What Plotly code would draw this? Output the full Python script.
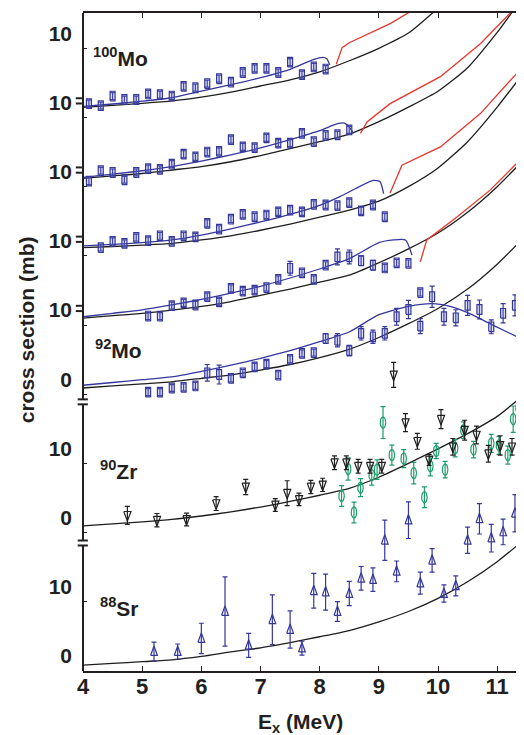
import numpy as np
import plotly.graph_objects as go

# ---------------- data (E in MeV, cross section in mb) ----------------
mo100_x = [4.1, 4.3, 4.5, 4.7, 4.9, 5.1, 5.3, 5.5, 5.7, 5.9, 6.1, 6.3, 6.5, 6.7, 6.9, 7.1, 7.3, 7.5, 7.7, 7.9, 8.1]
mo100_y = [2.0, 1.7, 3.1, 2.6, 2.6, 3.4, 3.3, 3.1, 4.5, 4.3, 4.9, 5.6, 5.1, 6.5, 7.1, 7.1, 6.5, 8.0, 6.2, 7.3, 7.0]
mo100_e = [0.5] * 21

mo98_x = [4.1, 4.3, 4.5, 4.7, 4.9, 5.1, 5.3, 5.5, 5.7, 5.9, 6.1, 6.3, 6.5, 6.7, 6.9, 7.1, 7.3, 7.5, 7.7, 7.9, 8.1, 8.3, 8.5]
mo98_y = [0.8, 2.3, 2.05, 1.0, 2.05, 2.6, 2.5, 3.25, 4.7, 4.3, 5.0, 5.1, 6.8, 5.75, 5.65, 7.05, 6.3, 6.3, 7.7, 6.5, 7.4, 7.5, 8.2]
mo98_e = [0.5] * 23

mo96_x = [4.3, 4.5, 4.7, 4.9, 5.1, 5.3, 5.5, 5.7, 5.9, 6.1, 6.3, 6.5, 6.7, 6.9, 7.1, 7.3, 7.5, 7.7, 7.9, 8.1, 8.3, 8.5, 8.7, 8.9, 9.1]
mo96_y = [1.2, 2.1, 1.8, 2.65, 2.2, 2.9, 2.1, 2.9, 2.75, 4.7, 3.85, 5.3, 6.0, 5.65, 5.9, 6.35, 6.6, 6.35, 7.45, 7.35, 7.25, 7.7, 6.5, 7.35, 5.65]
mo96_e = [0.5] * 25

mo94_x = [5.1, 5.3, 5.5, 5.7, 5.9, 6.1, 6.3, 6.5, 6.7, 6.9, 7.1, 7.3, 7.5, 7.7, 7.9, 8.1, 8.3, 8.5, 8.7, 8.9, 9.1, 9.3, 9.5]
mo94_y = [1.3, 1.3, 2.8, 3.2, 2.9, 4.1, 3.35, 5.3, 4.9, 5.05, 5.4, 6.6, 8.2, 7.55, 6.6, 8.65, 9.85, 9.85, 9.3, 8.65, 8.25, 9.0, 8.9]
mo94_e = [0.5, 0.5, 0.5, 0.5, 0.5, 0.5, 0.5, 0.5, 0.5, 0.5, 0.5, 0.5, 1.0, 0.5, 0.5, 0.5, 1.15, 1.0, 0.7, 0.7, 0.5, 0.5, 0.5]

mo92_x = [5.1, 5.3, 5.5, 5.7, 5.9, 6.1, 6.3, 6.5, 6.7, 6.9, 7.1, 7.3, 7.5, 7.7, 7.9, 8.1, 8.3, 8.5, 8.7, 8.9, 9.1,
          9.3, 9.5, 9.7, 9.7, 9.9, 10.1, 10.3, 10.5, 10.7, 10.9, 11.1, 11.3, 11.5]
mo92_y = [0.3, 0.3, 0.9, 1.0, 1.2, 3.1, 2.85, 2.3, 3.1, 3.95, 4.35, 2.75, 5.05, 5.9, 6.0, 8.05, 7.8, 6.3, 8.8, 8.3, 8.8,
          11.2, 12.25, 9.85, 14.7, 14.1, 11.2, 11.05, 12.85, 12.25, 9.75, 11.7, 12.85, 12.4]
mo92_e = [0.5, 0.5, 0.5, 0.5, 0.5, 1.2, 1.37, 0.5, 0.5, 0.5, 0.5, 0.5, 0.5, 0.5, 0.5, 0.7, 0.96, 0.77, 0.96, 0.96, 0.96,
          1.2, 1.32, 1.08, 0.5, 1.54, 1.2, 1.16, 1.44, 1.37, 1.01, 1.4, 1.52, 1.4]

zr_x = [4.75, 5.25, 5.75, 6.25, 6.75, 7.25, 7.45, 7.65, 7.85, 8.05, 8.25, 8.45, 8.65, 8.85, 9.05, 9.25, 9.45, 9.65,
        9.85, 10.05, 10.25, 10.45, 10.65, 10.85, 11.05, 11.25, 11.45]
zr_y = [2.5, 1.8, 1.9, 4.2, 6.6, 4.0, 5.7, 4.8, 6.6, 6.9, 10.1, 10.1, 9.6, 9.6, 9.6, 22.8, 15.9, 13.2, 10.5, 16.4,
        12.4, 14.8, 14.1, 11.4, 12.6, 12.4, 14.6]
zr_e = [1.3, 0.96, 0.92, 1.0, 1.1, 0.92, 1.8, 0.9, 0.96, 0.96, 1.0, 1.0, 1.0, 1.0, 1.0, 1.8, 1.3, 1.15, 0.8, 1.37,
        1.2, 1.44, 1.28, 1.2, 1.4, 1.2, 1.44]

zg_x = [8.37, 8.48, 8.58, 8.69, 8.88, 8.97, 9.07, 9.22, 9.42, 9.59, 9.77, 9.87, 9.97, 10.12, 10.29, 10.43, 10.6,
        10.9, 11.03, 11.18, 11.27, 11.36, 11.41, 11.46]
zg_y = [5.3, 9.2, 2.9, 6.5, 8.3, 9.1, 15.9, 11.2, 10.7, 8.6, 5.1, 9.6, 11.8, 9.1, 12.2, 14.8, 12.0, 12.9, 12.6,
        11.2, 16.4, 18.0, 20.7, 25.9]
zg_e = [1.5, 1.6, 1.5, 1.3, 1.44, 1.4, 2.3, 1.44, 1.3, 1.56, 1.5, 1.4, 1.1, 1.2, 1.25, 1.2, 1.2, 1.3, 1.3, 1.3,
        1.9, 1.56, 1.1, 1.5]

sr_x = [5.2, 5.6, 6.0, 6.4, 6.8, 7.2, 7.5, 7.7, 7.9, 8.1, 8.3, 8.5, 8.7, 8.9, 9.1, 9.3, 9.5, 9.7, 9.9, 10.1, 10.3,
        10.5, 10.7, 10.9, 11.1, 11.3, 11.46]
sr_y = [2.8, 2.8, 4.7, 8.6, 3.7, 7.4, 6.0, 3.3, 11.6, 11.4, 8.6, 11.2, 13.4, 13.2, 18.9, 14.4, 21.8, 12.7, 16.0,
        11.2, 12.3, 18.9, 22.0, 19.2, 20.1, 22.8, 11.0]
sr_e = [1.37, 1.1, 2.2, 5.0, 1.73, 3.6, 2.7, 1.0, 2.5, 2.6, 1.44, 1.76, 1.7, 1.7, 2.9, 1.5, 2.65, 1.6, 1.7, 1.25,
        1.44, 1.9, 2.2, 2.0, 1.85, 2.7, 1.5]

# model curves
mo100_black_x = [4.0, 4.5, 5.0, 5.5, 6.0, 6.5, 7.0, 7.5, 8.0, 8.5, 9.0, 9.5, 10.0]
mo100_black_y = [1.45, 1.75, 2.05, 2.4, 2.95, 3.65, 4.55, 5.45, 6.6, 8.2, 10.0, 12.2, 15.8]
mo100_blue_x = [4.0, 4.5, 5.0, 5.5, 6.0, 6.5, 7.0, 7.5, 7.9, 8.05, 8.12, 8.17]
mo100_blue_y = [1.6, 1.95, 2.35, 2.85, 3.8, 4.75, 5.75, 6.95, 8.4, 8.7, 8.5, 7.6]
mo100_red_x = [8.28, 8.38, 8.5, 8.9, 9.2, 9.55]
mo100_red_y = [7.7, 10.1, 10.8, 12.4, 13.6, 15.4]

mo98_black_x = [4.0, 4.5, 5.0, 5.5, 6.0, 6.5, 7.0, 7.5, 8.0, 8.5, 9.0, 9.5, 10.0, 10.5, 11.0, 11.3]
mo98_black_y = [1.2, 1.55, 1.9, 2.4, 2.9, 3.6, 4.5, 5.5, 6.5, 7.6, 9.4, 11.5, 13.8, 17.2, 22.3, 25.8]
mo98_blue_x = [4.0, 4.5, 5.0, 5.5, 6.0, 6.5, 7.0, 7.5, 8.0, 8.3, 8.42, 8.5, 8.57]
mo98_blue_y = [1.35, 1.8, 2.3, 2.9, 3.7, 4.6, 5.6, 6.8, 8.1, 9.1, 9.2, 8.6, 7.7]
mo98_red_x = [8.69, 8.8, 9.19, 10.04, 10.72, 11.3]
mo98_red_y = [7.7, 9.36, 12.0, 15.9, 20.7, 25.8]

mo96_black_x = [4.0, 4.5, 5.0, 5.5, 6.0, 6.5, 7.0, 7.5, 8.0, 8.5, 9.0, 9.5, 10.0, 10.5, 11.0, 11.46]
mo96_black_y = [1.2, 1.35, 1.55, 1.8, 2.3, 2.9, 3.7, 4.6, 5.6, 6.6, 7.9, 10.0, 12.7, 16.5, 21.5, 26.6]
mo96_blue_x = [4.0, 4.5, 5.0, 5.5, 6.0, 6.5, 7.0, 7.5, 8.0, 8.35, 8.6, 8.91, 9.02, 9.08]
mo96_blue_y = [1.45, 1.65, 1.9, 2.3, 3.0, 3.9, 4.9, 6.0, 7.3, 8.6, 9.7, 10.9, 10.7, 9.0]
mo96_red_x = [9.19, 9.39, 10.04, 10.72, 11.28, 11.46]
mo96_red_y = [9.1, 13.1, 15.75, 20.6, 25.9, 27.5]

mo94_black_x = [4.0, 4.5, 5.0, 5.5, 6.0, 6.5, 7.0, 7.5, 8.0, 8.5, 9.0, 9.5, 10.0, 10.5, 11.0, 11.46]
mo94_black_y = [1.0, 1.35, 1.7, 2.15, 2.7, 3.4, 4.3, 5.2, 6.2, 7.2, 9.0, 11.0, 13.3, 16.3, 20.0, 24.0]
mo94_blue_x = [4.0, 4.5, 5.0, 5.5, 6.0, 6.5, 7.0, 7.5, 8.0, 8.5, 9.0, 9.25, 9.45, 9.56]
mo94_blue_y = [1.2, 1.7, 2.2, 2.9, 3.7, 4.6, 5.6, 6.8, 8.1, 9.6, 11.9, 12.3, 12.3, 10.1]
mo94_red_x = [9.70, 9.81, 10.32, 10.88, 11.46]
mo94_red_y = [9.13, 12.3, 15.6, 19.5, 24.5]

mo92_black_x = [4.0, 4.5, 5.0, 5.5, 6.0, 6.5, 7.0, 7.5, 8.0, 8.5, 9.0, 9.5, 10.0, 10.5, 11.0, 11.46]
mo92_black_y = [0.9, 1.2, 1.5, 1.8, 2.3, 2.8, 3.5, 4.3, 5.3, 6.5, 8.2, 10.2, 12.4, 15.2, 18.8, 22.7]
mo92_blue_x = [4.0, 4.5, 5.0, 5.5, 6.0, 6.5, 7.0, 7.5, 8.0, 8.5, 9.0, 9.5, 9.9, 10.2, 10.5, 10.9, 11.46]
mo92_blue_y = [1.3, 1.7, 2.1, 2.5, 3.3, 4.2, 5.2, 6.3, 7.6, 9.0, 11.5, 12.7, 13.1, 12.7, 11.8, 10.1, 7.8]

zr_black_x = [4.0, 4.5, 5.0, 5.5, 6.0, 6.5, 7.0, 7.5, 8.0, 8.5, 9.0, 9.5, 10.0, 10.5, 11.0, 11.46]
zr_black_y = [0.98, 1.25, 1.55, 1.9, 2.4, 3.0, 3.7, 4.5, 5.4, 6.4, 8.0, 10.0, 12.1, 14.3, 16.8, 20.0]

sr_black_x = [4.0, 4.5, 5.0, 5.5, 6.0, 6.5, 7.0, 7.5, 8.0, 8.5, 9.0, 9.5, 10.0, 10.5, 11.0, 11.46]
sr_black_y = [0.85, 1.1, 1.35, 1.6, 2.1, 2.75, 3.35, 4.1, 4.95, 5.85, 7.1, 8.6, 10.5, 12.9, 15.8, 19.0]

# panel stacking offsets on the common axis
OFF = {'mo100': 80, 'mo98': 70, 'mo96': 60, 'mo94': 50, 'mo92': 40, 'zr': 20, 'sr': 0}

# ---------------- geometry / styles ----------------
# the page body adds an 8 px margin, so the figure is 8 px smaller than the window
W, H = 516, 727
ML, MR, MT, MB = 75, 0, 5, 64
XR = [4.0, 11.453]
YR = [0.0, 95.1]
PXX = (W - ML - MR) / (XR[1] - XR[0])
PXY = (H - MT - MB) / (YR[1] - YR[0])

BLUE = '#34379b'
BLACK = '#1e1e1e'
RED = '#e8352b'
GREEN = '#1c9d6a'
AX = '#231f20'

t = np.linspace(0, 2 * np.pi, 25)
BOX = [(-2.5, -4.8), (2.5, -4.8), (2.5, 4.8), (-2.5, 4.8), (-2.5, -4.8)]
ELL = list(zip(2.8 * np.cos(t), 5.6 * np.sin(t)))
TRI_DN = [(-3.6, 3.8), (3.6, 3.8), (0, -5.8), (-3.6, 3.8)]
TRI_UP = [(-3.4, -3.8), (3.4, -3.8), (0, 5.6), (-3.4, -3.8)]


def outline(xs, ys, off, shape):
    X, Y = [], []
    for x, y in zip(xs, ys):
        for dx, dy in shape:
            X.append(x + dx / PXX)
            Y.append(off + y + dy / PXY)
        X.append(None)
        Y.append(None)
    return X, Y


fig = go.Figure()


def curve(xs, ys, off, color, spline=True):
    fig.add_trace(go.Scatter(
        x=xs, y=[off + v for v in ys], mode='lines',
        line=dict(color=color, width=1.3, shape='spline' if spline else 'linear', smoothing=0.6),
        hoverinfo='skip', showlegend=False))


def points(xs, ys, es, off, shape, color, fill):
    fig.add_trace(go.Scatter(
        x=xs, y=[off + v for v in ys], mode='markers',
        marker=dict(size=2, color='rgba(0,0,0,0)'),
        error_y=dict(type='data', array=es, width=2.5, thickness=1.2, color=color),
        hoverinfo='skip', showlegend=False))
    X, Y = outline(xs, ys, off, shape)
    fig.add_trace(go.Scatter(
        x=X, y=Y, mode='lines', line=dict(color=color, width=1.2),
        fill='toself' if fill else None, fillcolor=fill,
        hoverinfo='skip', showlegend=False))


# curves
curve(mo100_black_x, mo100_black_y, OFF['mo100'], BLACK)
curve(mo100_blue_x, mo100_blue_y, OFF['mo100'], BLUE)
curve(mo100_red_x, mo100_red_y, OFF['mo100'], RED, spline=False)
curve(mo98_black_x, mo98_black_y, OFF['mo98'], BLACK)
curve(mo98_blue_x, mo98_blue_y, OFF['mo98'], BLUE)
curve(mo98_red_x, mo98_red_y, OFF['mo98'], RED, spline=False)
curve(mo96_black_x, mo96_black_y, OFF['mo96'], BLACK)
curve(mo96_blue_x, mo96_blue_y, OFF['mo96'], BLUE)
curve(mo96_red_x, mo96_red_y, OFF['mo96'], RED, spline=False)
curve(mo94_black_x, mo94_black_y, OFF['mo94'], BLACK)
curve(mo94_blue_x, mo94_blue_y, OFF['mo94'], BLUE)
curve(mo94_red_x, mo94_red_y, OFF['mo94'], RED, spline=False)
curve(mo92_black_x, mo92_black_y, OFF['mo92'], BLACK)
curve(mo92_blue_x, mo92_blue_y, OFF['mo92'], BLUE)
curve(zr_black_x, zr_black_y, OFF['zr'], BLACK)
curve(sr_black_x, sr_black_y, OFF['sr'], BLACK)

# data points
BOXFILL = 'rgba(110,120,210,0.25)'
points(mo100_x, mo100_y, mo100_e, OFF['mo100'], BOX, BLUE, BOXFILL)
points(mo98_x, mo98_y, mo98_e, OFF['mo98'], BOX, BLUE, BOXFILL)
points(mo96_x, mo96_y, mo96_e, OFF['mo96'], BOX, BLUE, BOXFILL)
points(mo94_x, mo94_y, mo94_e, OFF['mo94'], BOX, BLUE, BOXFILL)
points(mo92_x, mo92_y, mo92_e, OFF['mo92'], BOX, BLUE, BOXFILL)
points(zg_x, zg_y, zg_e, OFF['zr'], ELL, GREEN, None)
points(zr_x, zr_y, zr_e, OFF['zr'], TRI_DN, BLACK, None)
points(sr_x, sr_y, sr_e, OFF['sr'], TRI_UP, BLUE, None)

# ---------------- axes ----------------
tick_vals = [0, 10, 20, 30, 40, 50, 60, 70, 80, 90]
tick_text = ['0', '10', '0', '10', '0', '10', '10', '10', '10', '10']
x_ticks = [4, 5, 6, 7, 8, 9, 10, 11]

fig.update_xaxes(range=XR, tickvals=x_ticks, ticktext=[str(v) for v in x_ticks],
                 ticks='inside', ticklen=5, tickwidth=1.2, tickcolor=AX,
                 showline=True, linewidth=2, linecolor=AX, mirror='ticks',
                 showgrid=False, zeroline=False, automargin=False,
                 ticklabelstandoff=-5,
                 tickfont=dict(family='Liberation Sans, Arial', size=22, color=AX, weight='bold'))
fig.update_yaxes(range=YR, tickvals=tick_vals, ticktext=tick_text,
                 ticks='inside', ticklen=4, tickwidth=1.2, tickcolor=AX,
                 showline=False, mirror='ticks',
                 showgrid=False, zeroline=False, automargin=False,
                 ticklabelshift=-15, ticklabelstandoff=10,
                 tickfont=dict(family='Liberation Sans, Arial', size=21, color=AX, weight='bold'))

shapes = [dict(type='line', xref='paper', yref='paper', x0=0, x1=0, y0=0, y1=1,
               line=dict(color=AX, width=2), layer='above')]
# "=" marks next to the stacked-panel labels
for yv in [52.4, 62.4, 72.4, 82.4]:
    for d in (-0.38, 0.38):
        shapes.append(dict(type='line', xref='paper', yref='y', x0=-0.0163, x1=-0.0025,
                           y0=yv + d, y1=yv + d, line=dict(color=AX, width=2), layer='above'))
# axis breaks
for yv in [38.9, 18.5]:
    shapes.append(dict(type='rect', xref='paper', yref='y', x0=-0.006, x1=0.006,
                       y0=yv - 0.3, y1=yv + 0.3, fillcolor='white', line=dict(width=0), layer='above'))
    for d in (-0.36, 0.36):
        shapes.append(dict(type='line', xref='paper', yref='y', x0=-0.012, x1=0.011,
                           y0=yv + d, y1=yv + d, line=dict(color=AX, width=2), layer='above'))

LBL = dict(family='Liberation Sans, Arial', size=21, color=AX)
annotations = [
    dict(text='<b><sup>100</sup>Mo</b>', x=4.14, y=88.8, xref='x', yref='y', xanchor='left', yanchor='middle',
         showarrow=False, font=LBL),
    dict(text='<b><sup>92</sup>Mo</b>', x=4.17, y=46.6, xref='x', yref='y', xanchor='left', yanchor='middle',
         showarrow=False, font=LBL),
    dict(text='<b><sup>90</sup>Zr</b>', x=4.25, y=29.0, xref='x', yref='y', xanchor='left', yanchor='middle',
         showarrow=False, font=LBL),
    dict(text='<b><sup>88</sup>Sr</b>', x=4.25, y=9.3, xref='x', yref='y', xanchor='left', yanchor='middle',
         showarrow=False, font=LBL),
    dict(text='<b>cross section (mb)</b>', textangle=-90, x=-0.129, y=0.518, xref='paper', yref='paper',
         xanchor='center', yanchor='middle', showarrow=False,
         font=dict(family='Liberation Sans, Arial', size=21, color=AX)),
    dict(text='<b>E<sub>x</sub> (MeV)</b>', x=0.494, y=-0.079, xref='paper', yref='paper',
         xanchor='center', yanchor='middle', showarrow=False,
         font=dict(family='Liberation Sans, Arial', size=21, color=AX)),
]

fig.update_layout(width=W, height=H, margin=dict(l=ML, r=MR, t=MT, b=MB, pad=0, autoexpand=False),
                  plot_bgcolor='white', paper_bgcolor='white', showlegend=False,
                  shapes=shapes, annotations=annotations)

fig.write_html('out.html')
